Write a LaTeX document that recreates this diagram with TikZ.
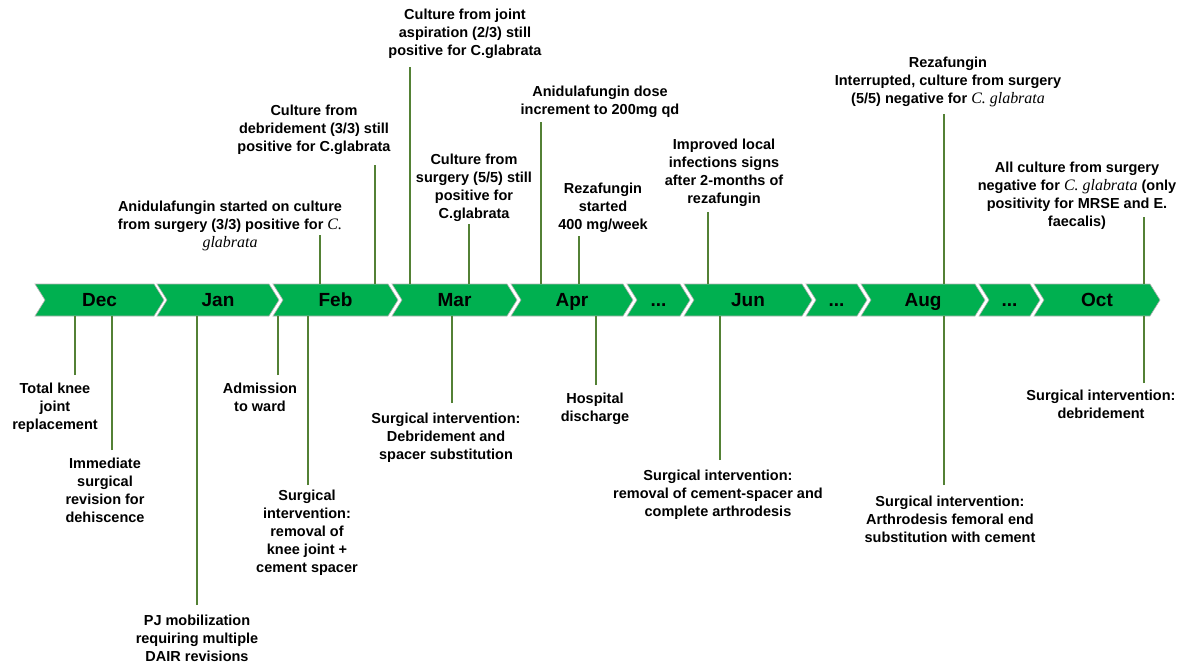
\documentclass[tikz,border=0pt]{standalone}
\usepackage{fontspec}
\setmainfont{Liberation Sans}
\newfontfamily\serifit{Liberation Serif}[Scale=1.1]
\definecolor{chevgreen}{RGB}{0,176,80}
\definecolor{stemgreen}{RGB}{83,129,53}
\newcommand{\cglab}{{\serifit\itshape\mdseries C. glabrata}}
\newcommand{\skipdots}{...}

\begin{document}
\begin{tikzpicture}[x=1pt,y=-1pt,
    chev/.style={fill=chevgreen, draw=black!30, line width=0.6pt},
    month/.style={font=\bfseries\fontsize{19}{22}\selectfont, minimum height=32pt, inner sep=0pt,
        text height=13.6pt, text depth=0pt},
    event/.style={font=\bfseries\fontsize{14.5}{18}\selectfont, align=center, inner sep=0pt, anchor=north},
    stem/.style={draw=stemgreen, line width=1.4pt}]
    \useasboundingbox (0,0) rectangle (1189,662);
    % Chevron band with the months
    \foreach \l/\r/\n/\t in {35/154/dec/Dec, 157/269/jan/Jan, 273/388/feb/Feb,
        392/507/mar/Mar, 511/623/apr/Apr, 627/680/gapa/\skipdots, 684/802/jun/Jun,
        806/857/gapb/\skipdots, 861/975/aug/Aug, 979/1030/gapc/\skipdots, 1034/1150/oct/Oct} {
        \draw[chev] (\l,284) -- (\r,284) -- ({\r+10},300) -- (\r,316) -- (\l,316) -- ({\l+10},300) -- cycle;
        \node[month] (\n) at ({(\l+\r)/2+5},300) {\t};
    }
    % Events above the band
    \node[event] (ab1) at (230,200.5) {Anidulafungin started on culture\\ from surgery (3/3) positive for {\serifit\itshape\mdseries C.}\\ {\serifit\itshape\mdseries glabrata}};
    \node[event] (ab2) at (314,104.5) {Culture from\\ debridement (3/3) still\\ positive for C.glabrata};
    \node[event] (ab3) at (465,8.5) {Culture from joint\\ aspiration (2/3) still\\ positive for C.glabrata};
    \node[event] (ab4) at (474,153.5) {Culture from\\ surgery (5/5) still\\ positive for\\ C.glabrata};
    \node[event] (ab5) at (600,85.5) {Anidulafungin dose\\ increment to 200mg qd};
    \node[event] (ab6) at (603,182.5) {Rezafungin\\ started\\ 400 mg/week};
    \node[event] (ab7) at (724,138.5) {Improved local\\ infections signs\\ after 2-months of\\ rezafungin};
    \node[event] (ab8) at (948,56.5) {Rezafungin\\ Interrupted, culture from surgery\\ (5/5) negative for \cglab};
    \node[event] (ab9) at (1077,161.5) {All culture from surgery\\ negative for \cglab{} (only\\ positivity for MRSE and E.\\ faecalis)};
    % Events below the band
    \node[event] (bl1) at (55,382.5) {Total knee\\ joint\\ replacement};
    \node[event] (bl2) at (105,457.5) {Immediate\\ surgical\\ revision for\\ dehiscence};
    \node[event] (bl3) at (197,614.5) {PJ mobilization\\ requiring multiple\\ DAIR revisions};
    \node[event] (bl4) at (260,382.5) {Admission\\ to ward};
    \node[event] (bl5) at (307,489.5) {Surgical\\ intervention:\\ removal of\\ knee joint +\\ cement spacer};
    \node[event] (bl6) at (446,412.5) {Surgical intervention:\\ Debridement and\\ spacer substitution};
    \node[event] (bl7) at (595,392.5) {Hospital\\ discharge};
    \node[event] (bl8) at (718,469.5) {Surgical intervention:\\ removal of cement-spacer and\\ complete arthrodesis};
    \node[event] (bl9) at (950,495.5) {Surgical intervention:\\ Arthrodesis femoral end\\ substitution with cement};
    \node[event] (bl10) at (1101,389.5) {Surgical intervention:\\ debridement};
    % Stems up to the band
    \foreach \c/\x/\y/\m in {sa1/320/235/feb, sa2/375/165/feb, sa3/410/67/mar,
        sa4/469/224/mar, sa5/541/122/apr, sa6/579/236/apr, sa7/708/212/jun,
        sa8/944/114/aug, sa9/1144/217/oct} {
        \coordinate (\c) at (\x,\y);
        \draw[stem] (\c) -- (\c |- \m.north);
    }
    % Stems down from the band
    \foreach \c/\x/\y/\m in {sb1/75/375/dec, sb2/112/450/dec, sb3/197/605/jan,
        sb4/278/375/feb, sb5/308/485/feb, sb6/452/403/mar, sb7/596/385/apr,
        sb8/720/460/jun, sb9/944/485/aug, sb10/1144/383/oct} {
        \coordinate (\c) at (\x,\y);
        \draw[stem] (\c) -- (\c |- \m.south);
    }
\end{tikzpicture}
\end{document}
